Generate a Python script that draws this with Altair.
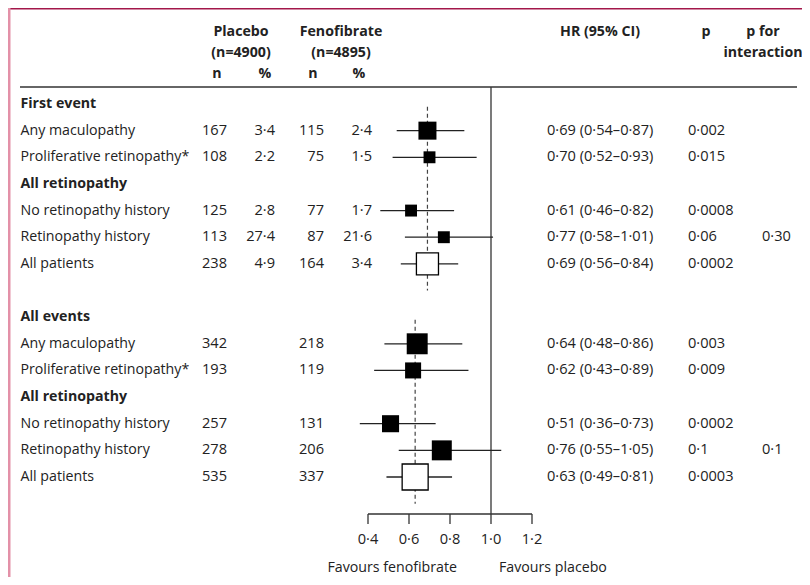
import altair as alt
import pandas as pd

# ---------------- data ----------------
labels = ["First event", "Any maculopathy", "Proliferative retinopathy*", "All retinopathy",
          "No retinopathy history", "Retinopathy history", "All patients", "",
          "All events", "Any maculopathy", "Proliferative retinopathy*", "All retinopathy",
          "No retinopathy history", "Retinopathy history", "All patients"]
is_bold = [1, 0, 0, 1, 0, 0, 0, 0, 1, 0, 0, 1, 0, 0, 0]
placebo_n = ["", "167", "108", "", "125", "113", "238", "", "", "342", "193", "", "257", "278", "535"]
placebo_pct = ["", "3·4", "2·2", "", "2·8", "27·4", "4·9", "", "", "", "", "", "", "", ""]
feno_n = ["", "115", "75", "", "77", "87", "164", "", "", "218", "119", "", "131", "206", "337"]
feno_pct = ["", "2·4", "1·5", "", "1·7", "21·6", "3·4", "", "", "", "", "", "", "", ""]
hr = [None, 0.69, 0.70, None, 0.61, 0.77, 0.69, None, None, 0.64, 0.62, None, 0.51, 0.76, 0.63]
ci_lo = [None, 0.54, 0.52, None, 0.46, 0.58, 0.56, None, None, 0.48, 0.43, None, 0.36, 0.55, 0.49]
ci_hi = [None, 0.87, 0.93, None, 0.82, 1.01, 0.84, None, None, 0.86, 0.89, None, 0.73, 1.05, 0.81]
hr_text = ["", "0·69 (0·54–0·87)", "0·70 (0·52–0·93)", "", "0·61 (0·46–0·82)", "0·77 (0·58–1·01)",
           "0·69 (0·56–0·84)", "", "", "0·64 (0·48–0·86)", "0·62 (0·43–0·89)", "",
           "0·51 (0·36–0·73)", "0·76 (0·55–1·05)", "0·63 (0·49–0·81)"]
p_text = ["", "0·002", "0·015", "", "0·0008", "0·06", "0·0002", "", "", "0·003", "0·009", "",
          "0·0002", "0·1", "0·0003"]
p_int_text = ["", "", "", "", "", "0·30", "", "", "", "", "", "", "", "0·1", ""]
weights = [None, 48, 21, None, 21, 21, 72, None, None, 65, 38, None, 43, 59, 100]
is_total = [0, 0, 0, 0, 0, 0, 1, 0, 0, 0, 0, 0, 0, 0, 1]

section_rows = [(0, 6), (8, 14)]
section_hr = [0.69, 0.63]

tick_values = [0.4, 0.6, 0.8, 1.0, 1.2]
tick_labels = ["0·4", "0·6", "0·8", "1·0", "1·2"]

# ---------------- tables ----------------
df = pd.DataFrame({
    "row": list(range(len(labels))), "label": labels, "bold": is_bold,
    "pn": placebo_n, "pp": placebo_pct, "fn": feno_n, "fp": feno_pct,
    "hr": hr, "lo": ci_lo, "hi": ci_hi, "hrtxt": hr_text, "p": p_text, "pint": p_int_text,
    "w": weights, "total": is_total,
})
dash_df = pd.DataFrame({
    "hr": section_hr,
    "y0": [s + 0.1 for s, e in section_rows],
    "y1": [e + 1.0 for s, e in section_rows],
})
tick_df = pd.DataFrame({"v": tick_values, "lab": tick_labels})

# layout: plot origin sits at page (8, 8); positions below are page pixels minus 8
W, H = 794, 569
FONT = "Open Sans"
FS = 14.2
FS_NUM = 14.6
TXT = "#222222"

X0_PAGE, PX_PER_UNIT = 368.0, 205.0        # page x of HR 0.4, pixels per HR unit
ROW0_PAGE, PX_PER_ROW = 104.0, 26.643       # page y of row 0, pixels per row
x_dom = [0.4 - (X0_PAGE - 8) / PX_PER_UNIT, 0.4 + (8 + W - X0_PAGE) / PX_PER_UNIT]
y_dom = [(8 - ROW0_PAGE) / PX_PER_ROW, (8 + H - ROW0_PAGE) / PX_PER_ROW]

xs = alt.Scale(domain=x_dom, nice=False, zero=False)
ys = alt.Scale(domain=y_dom, nice=False, zero=False, reverse=True)
X = lambda f: alt.X(f, type="quantitative", scale=xs, axis=None)
Y = alt.Y("row:Q", scale=ys, axis=None)

base = alt.Chart(df)


def col_text(field, xpx, align, fs=FS_NUM):
    return base.mark_text(align=align, baseline="middle", font=FONT, fontSize=fs, color=TXT).encode(
        x=alt.value(xpx - 8), y=Y, text=f"{field}:N")


layers = []
layers.append(base.transform_filter("datum.bold == 1").mark_text(
    align="left", baseline="middle", font=FONT, fontSize=FS, fontWeight="bold", color=TXT
).encode(x=alt.value(20.5 - 8), y=Y, text="label:N"))
layers.append(base.transform_filter("datum.bold == 0").mark_text(
    align="left", baseline="middle", font=FONT, fontSize=FS, color=TXT
).encode(x=alt.value(20.5 - 8), y=Y, text="label:N"))
layers.append(col_text("pn", 227, "right"))
layers.append(col_text("pp", 275, "right"))
layers.append(col_text("fn", 324, "right"))
layers.append(col_text("fp", 372, "right"))
layers.append(col_text("hrtxt", 547, "left"))
layers.append(col_text("p", 688, "left"))
layers.append(col_text("pint", 762, "left"))

# headers
header = [
    ("Placebo", 241, 32), ("(n=4900)", 241, 53), ("n", 217, 74), ("%", 265, 74),
    ("Fenofibrate", 341, 32), ("(n=4895)", 341, 53), ("n", 313, 74), ("%", 359, 74),
    ("HR (95% CI)", 600, 32), ("p", 706, 32), ("p for", 763, 32), ("interaction", 763, 53),
]
for t, hx, hy in header:
    layers.append(alt.Chart(pd.DataFrame({"t": [t]})).mark_text(
        align="center", baseline="middle", font=FONT, fontSize=FS, fontWeight="bold", color=TXT
    ).encode(x=alt.value(hx - 8), y=alt.value(hy - 8), text="t:N"))

# frame lines
one = pd.DataFrame({"a": [0]})
layers.append(alt.Chart(one).mark_rule(color="#a3174a", strokeWidth=1.5).encode(
    x=alt.value(0), x2=alt.value(W), y=alt.value(0.75)))
layers.append(alt.Chart(one).mark_rule(color="#e391a8", strokeWidth=2.5).encode(
    x=alt.value(1.25), y=alt.value(0), y2=alt.value(H)))
layers.append(alt.Chart(one).mark_rule(color="#333333", strokeWidth=1.5).encode(
    x=alt.value(20 - 8), x2=alt.value(797 - 8), y=alt.value(87 - 8)))

# null line at 1.0
layers.append(alt.Chart(pd.DataFrame({"v": [1.0]})).mark_rule(color="#333333", strokeWidth=1.3).encode(
    x=X("v"), y=alt.value(87 - 8), y2=alt.value(514 - 8)))

# dashed overall lines
layers.append(alt.Chart(dash_df).mark_rule(color="#444444", strokeWidth=1.2, strokeDash=[4, 3]).encode(
    x=X("hr"), y=alt.Y("y0:Q", scale=ys, axis=None), y2="y1:Q"))

# CI lines
layers.append(base.transform_filter("datum.hr != null").mark_rule(color="#222222", strokeWidth=1.3).encode(
    x=X("lo"), x2="hi:Q", y=Y))

size_scale = alt.Scale(domain=[0, 100], range=[0, 676], zero=True)
layers.append(base.transform_filter("datum.hr != null && datum.total == 0").mark_square(
    color="#000000", opacity=1, filled=True).encode(
    x=X("hr"), y=Y, size=alt.Size("w:Q", scale=size_scale, legend=None)))
layers.append(base.transform_filter("datum.hr != null && datum.total == 1").mark_square(
    fill="#ffffff", stroke="#000000", strokeWidth=1.3, opacity=1, filled=False, fillOpacity=1).encode(
    x=X("hr"), y=Y, size=alt.Size("w:Q", scale=size_scale, legend=None)))

# HR axis
tick_base = alt.Chart(tick_df)
layers.append(alt.Chart(pd.DataFrame({"a": [tick_values[0]], "b": [tick_values[-1]]})).mark_rule(
    color="#333333", strokeWidth=1.3).encode(x=X("a"), x2="b:Q", y=alt.value(514 - 8)))
layers.append(tick_base.mark_rule(color="#333333", strokeWidth=1.3).encode(
    x=X("v"), y=alt.value(514 - 8), y2=alt.value(524 - 8)))
layers.append(tick_base.mark_text(align="center", baseline="middle", font=FONT, fontSize=FS_NUM,
                                  color=TXT).encode(x=X("v"), y=alt.value(540 - 8), text="lab:N"))
layers.append(alt.Chart(pd.DataFrame({"t": ["Favours fenofibrate"]})).mark_text(
    align="right", baseline="middle", font=FONT, fontSize=FS, color=TXT).encode(
    x=alt.value(457 - 8), y=alt.value(568 - 8), text="t:N"))
layers.append(alt.Chart(pd.DataFrame({"t": ["Favours placebo"]})).mark_text(
    align="left", baseline="middle", font=FONT, fontSize=FS, color=TXT).encode(
    x=alt.value(499 - 8), y=alt.value(568 - 8), text="t:N"))

chart = alt.layer(*layers).properties(
    width=W, height=H, padding=0,
    autosize=alt.AutoSizeParams(type="none"),
).configure_view(stroke=None).configure(background="white")

chart.save("out.html", embed_options={"renderer": "svg", "actions": False})
